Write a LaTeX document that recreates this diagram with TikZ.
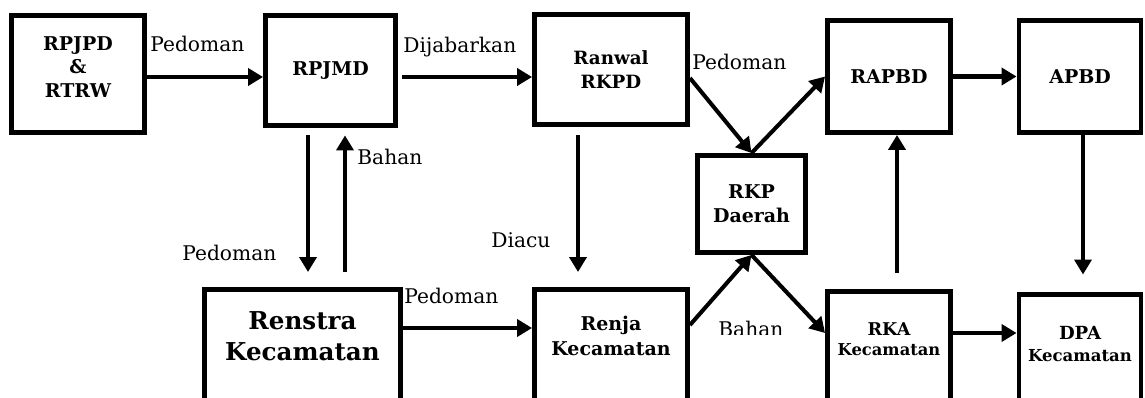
\documentclass[tikz,border=0pt]{standalone}
\usepackage{fontspec}
\setmainfont{DejaVu Serif}
\usetikzlibrary{arrows.meta}
\newcommand{\boxfont}[2]{\fontsize{#1}{#2}\selectfont\bfseries}

\begin{document}
\begin{tikzpicture}[
  x=0.02cm, y=-0.02cm,
  box/.style={draw, line width=2.8pt, inner sep=0pt, align=center},
  lowbox/.style={box, anchor=north, text depth=3cm},
  arr/.style={-{Triangle[length=0.3cm, width=0.34cm]}, line width=2.3pt},
  lbl/.style={anchor=base west, inner sep=0pt, font=\fontsize{11.5}{14}\selectfont}
]
  \clip (0,0) rectangle (1145,398);

  % upper row
  \node[box, minimum width=2.66cm, minimum height=2.34cm, text depth=0.28cm, font=\boxfont{10.8}{13.5}] (rpjpd) at (78,74) {RPJPD\\\&\\RTRW};
  \node[box, minimum width=2.60cm, minimum height=2.20cm, font=\boxfont{10.8}{14}] (rpjmd) at (330.5,70.5) {RPJMD};
  \node[box, minimum width=3.06cm, minimum height=2.20cm, font=\boxfont{10.4}{13.7}] (ranwal) at (611,69.5) {Ranwal\\RKPD};
  \node[box, minimum width=2.16cm, minimum height=1.94cm, font=\boxfont{10.8}{13.7}] (rkp) at (751.5,204) {RKP\\Daerah};
  \node[box, minimum width=2.46cm, minimum height=2.24cm, font=\boxfont{10.8}{14}] (rapbd) at (889,76.5) {RAPBD};
  \node[box, minimum width=2.44cm, minimum height=2.24cm, font=\boxfont{10.8}{14}] (apbd) at (1080,76.5) {APBD};

  % lower row
  \node[lowbox, minimum width=3.92cm, text height=1.41cm, font=\boxfont{14}{17.6}] (renstra) at (302.5,287.5) {Renstra\\Kecamatan};
  \node[lowbox, minimum width=3.06cm, text height=1.31cm, font=\boxfont{10.8}{14.2}] (renja) at (611,287.5) {Renja\\Kecamatan};
  \node[lowbox, minimum width=2.46cm, text height=1.27cm, font=\boxfont{10}{11.4}] (rka) at (889,289.5) {RKA\\{\fontsize{9.3}{11.4}\selectfont Kecamatan}};
  \node[lowbox, minimum width=2.44cm, text height=1.33cm, font=\boxfont{10.3}{12.5}] (dpa) at (1080,292.5) {DPA\\{\fontsize{9.4}{12.5}\selectfont Kecamatan}};

  % labels
  \node[lbl] (l1) at (150,52) {Pedoman};
  \node[lbl] (l2) at (403,53) {Dijabarkan};
  \node[lbl] (l3) at (692,70) {Pedoman};
  \node[lbl] (l4) at (357,165) {Bahan};
  \node[lbl] (l5) at (182,261) {Pedoman};
  \node[lbl] (l6) at (491,248) {Diacu};
  \node[lbl] (l7) at (404,303) {Pedoman};
  \begin{scope}
    \clip (700,300) rectangle (810,334);
    \node[lbl] (l8) at (718,337) {Bahan};
  \end{scope}

  % arrows
  \draw[arr] (rpjpd.east |- 0,77) -- (rpjmd.west |- 0,77);
  \draw[arr, shorten <=0.08cm] (rpjmd.east |- 0,77) -- (ranwal.west |- 0,77);
  \draw[arr] (ranwal.east |- 0,78) -- (rkp.north);
  \draw[arr] (rkp.north) -- (rapbd.west);
  \draw[arr] (rapbd.east) -- (apbd.west);
  \draw[arr, shorten >=0.36cm] (1083,0 |- apbd.south) -- (1083,0 |- dpa.north);
  \draw[arr, shorten <=0.33cm] (897,0 |- rka.north) -- (897,0 |- rapbd.south);
  \draw[arr] (rka.east |- 0,333) -- (dpa.west |- 0,333);
  \draw[arr] (renstra.east |- 0,328) -- (renja.west |- 0,328);
  \draw[arr] (renja.east |- 0,325) -- (rkp.south);
  \draw[arr] (rkp.south) -- (rka.west |- 0,333);
  \draw[arr, shorten <=0.17cm, shorten >=0.31cm] (578,0 |- ranwal.south) -- (578,0 |- renja.north);
  \draw[arr, shorten <=0.15cm, shorten >=0.31cm] (308,0 |- rpjmd.south) -- (308,0 |- renstra.north);
  \draw[arr, shorten <=0.31cm, shorten >=0.15cm] (345,0 |- renstra.north) -- (345,0 |- rpjmd.south);
\end{tikzpicture}
\end{document}
